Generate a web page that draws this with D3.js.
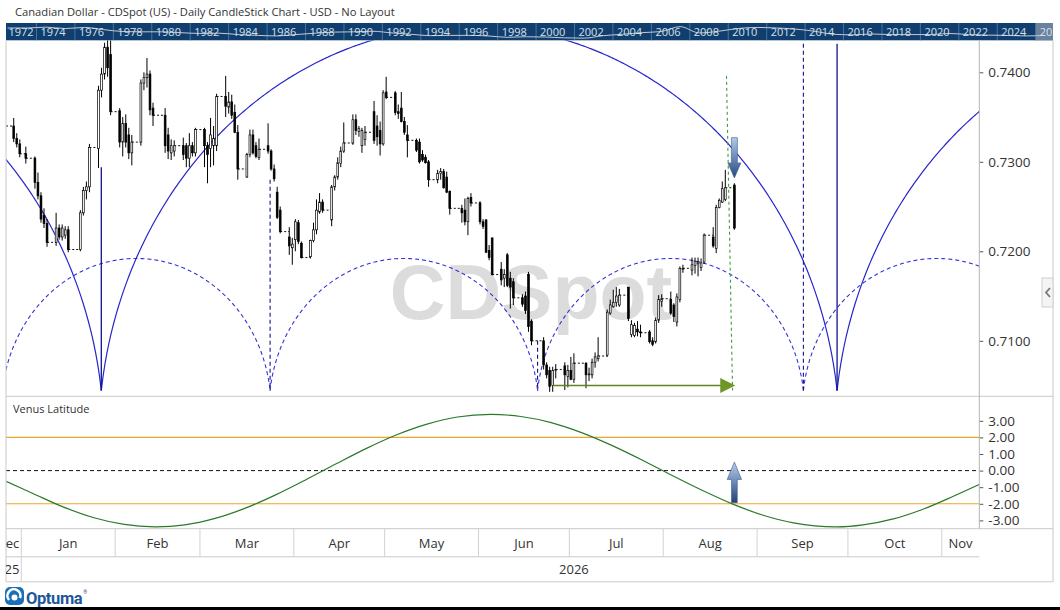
<!DOCTYPE html>
<html>
<head>
<meta charset="utf-8">
<title>Canadian Dollar - CDSpot</title>
<script src="https://cdn.jsdelivr.net/npm/d3@7/dist/d3.min.js"></script>
<style>
  body { margin: 0; background: #fff; }
  svg { display: block; font-family: "Open Sans", "Noto Sans", sans-serif; }
</style>
</head>
<body>
<svg id="chart" width="1060" height="610"></svg>
<script>
// ---- data ----
const titleText = "Canadian Dollar - CDSpot (US) - Daily CandleStick Chart - USD - No Layout";

// daily candles: date, open, high, low, close
const candles = [
  ["2025-12-29",.7340,.7349,.7322,.7326],["2025-12-30",.7326,.7332,.7316,.7320],["2025-12-31",.7320,.7325,.7305,.7309],["2026-01-02",.7309,.7317,.7298,.7304],
  ["2026-01-05",.7304,.7306,.7270,.7277],["2026-01-06",.7277,.7288,.7258,.7262],["2026-01-07",.7262,.7266,.7232,.7236],["2026-01-08",.7240,.7248,.7226,.7231],["2026-01-09",.7231,.7236,.7205,.7210],
  ["2026-01-12",.7210,.7243,.7206,.7226],["2026-01-13",.7226,.7230,.7213,.7216],["2026-01-14",.7216,.7230,.7212,.7226],["2026-01-15",.7218,.7228,.7214,.7224],["2026-01-16",.7224,.7228,.7199,.7202],
  ["2026-01-20",.7202,.7246,.7200,.7243],["2026-01-21",.7243,.7272,.7240,.7268],["2026-01-22",.7268,.7278,.7258,.7272],["2026-01-23",.7272,.7320,.7266,.7316],
  ["2026-01-26",.7315,.7385,.7293,.7380],["2026-01-27",.7380,.7405,.7372,.7398],["2026-01-28",.7398,.7433,.7392,.7428],["2026-01-29",.7428,.7437,.7395,.7405],["2026-01-30",.7420,.7436,.7352,.7356],
  ["2026-02-02",.7357,.7360,.7316,.7322],["2026-02-03",.7322,.7350,.7306,.7343],["2026-02-04",.7343,.7353,.7316,.7322],["2026-02-05",.7330,.7338,.7303,.7310],["2026-02-06",.7310,.7330,.7296,.7322],
  ["2026-02-09",.7322,.7392,.7318,.7388],["2026-02-10",.7388,.7400,.7380,.7394],["2026-02-11",.7394,.7416,.7383,.7398],["2026-02-12",.7398,.7402,.7352,.7358],["2026-02-13",.7360,.7366,.7340,.7352],
  ["2026-02-17",.7352,.7360,.7310,.7318],["2026-02-18",.7330,.7338,.7303,.7312],["2026-02-19",.7310,.7325,.7302,.7318],["2026-02-20",.7312,.7324,.7306,.7318],
  ["2026-02-23",.7318,.7327,.7302,.7308],["2026-02-24",.7318,.7321,.7294,.7304],["2026-02-25",.7304,.7332,.7294,.7318],["2026-02-26",.7318,.7322,.7306,.7310],["2026-02-27",.7310,.7338,.7306,.7336],
  ["2026-03-02",.7336,.7338,.7294,.7318],["2026-03-03",.7318,.7322,.7276,.7308],["2026-03-04",.7315,.7349,.7294,.7330],["2026-03-05",.7318,.7340,.7296,.7326],["2026-03-06",.7318,.7376,.7312,.7373],
  ["2026-03-09",.7373,.7396,.7350,.7362],["2026-03-10",.7361,.7378,.7354,.7367],["2026-03-11",.7367,.7375,.7348,.7352],["2026-03-12",.7355,.7364,.7332,.7333],["2026-03-13",.7333,.7341,.7280,.7292],
  ["2026-03-16",.7283,.7310,.7282,.7308],["2026-03-17",.7308,.7336,.7305,.7330],["2026-03-18",.7330,.7336,.7308,.7310],["2026-03-19",.7318,.7322,.7304,.7306],["2026-03-20",.7305,.7326,.7302,.7314],
  ["2026-03-23",.7318,.7343,.7309,.7312],["2026-03-24",.7312,.7314,.7290,.7292],["2026-03-25",.7292,.7297,.7278,.7281],["2026-03-26",.7266,.7272,.7236,.7238],["2026-03-27",.7246,.7250,.7220,.7222],
  ["2026-03-30",.7216,.7227,.7196,.7206],["2026-03-31",.7204,.7215,.7185,.7208],["2026-04-01",.7213,.7236,.7200,.7233],["2026-04-02",.7232,.7235,.7208,.7211],["2026-04-03",.7209,.7211,.7192,.7193],
  ["2026-04-06",.7194,.7213,.7192,.7212],["2026-04-07",.7212,.7232,.7210,.7224],["2026-04-08",.7224,.7258,.7219,.7246],["2026-04-09",.7244,.7265,.7242,.7255],["2026-04-10",.7255,.7258,.7243,.7246],
  ["2026-04-13",.7235,.7274,.7228,.7272],["2026-04-14",.7272,.7285,.7268,.7283],["2026-04-15",.7283,.7305,.7280,.7299],["2026-04-16",.7298,.7317,.7294,.7312],["2026-04-17",.7312,.7344,.7310,.7321],
  ["2026-04-20",.7321,.7353,.7319,.7347],["2026-04-21",.7347,.7353,.7330,.7335],["2026-04-22",.7334,.7340,.7328,.7337],["2026-04-23",.7318,.7338,.7310,.7335],["2026-04-24",.7325,.7340,.7318,.7333],
  ["2026-04-27",.7356,.7368,.7320,.7324],["2026-04-28",.7340,.7352,.7318,.7328],["2026-04-29",.7335,.7345,.7307,.7320],["2026-04-30",.7320,.7380,.7318,.7377],["2026-05-01",.7378,.7395,.7370,.7372],
  ["2026-05-04",.7377,.7379,.7352,.7355],["2026-05-05",.7356,.7364,.7348,.7354],["2026-05-06",.7360,.7378,.7344,.7345],["2026-05-07",.7345,.7350,.7330,.7333],["2026-05-08",.7330,.7341,.7305,.7324],
  ["2026-05-11",.7324,.7326,.7311,.7313],["2026-05-12",.7322,.7326,.7298,.7300],["2026-05-13",.7308,.7313,.7300,.7302],["2026-05-14",.7305,.7308,.7298,.7299],["2026-05-15",.7300,.7302,.7272,.7280],
  ["2026-05-18",.7280,.7291,.7276,.7287],["2026-05-19",.7287,.7293,.7280,.7289],["2026-05-20",.7289,.7292,.7270,.7271],["2026-05-21",.7283,.7289,.7265,.7266],["2026-05-22",.7267,.7268,.7241,.7248],
  ["2026-05-26",.7248,.7252,.7232,.7243],["2026-05-27",.7246,.7259,.7229,.7233],["2026-05-28",.7233,.7261,.7218,.7259],["2026-05-29",.7260,.7265,.7250,.7254],
  ["2026-06-01",.7254,.7256,.7230,.7233],["2026-06-02",.7233,.7236,.7225,.7228],["2026-06-03",.7235,.7236,.7198,.7199],["2026-06-04",.7201,.7207,.7190,.7193],["2026-06-05",.7215,.7215,.7173,.7174],
  ["2026-06-08",.7180,.7188,.7162,.7168],["2026-06-09",.7170,.7180,.7160,.7174],["2026-06-10",.7196,.7198,.7160,.7162],["2026-06-11",.7170,.7177,.7136,.7160],["2026-06-12",.7166,.7170,.7140,.7148],
  ["2026-06-15",.7148,.7152,.7138,.7141],["2026-06-16",.7150,.7155,.7130,.7134],["2026-06-17",.7174,.7177,.7110,.7116],["2026-06-18",.7122,.7124,.7095,.7100],
  ["2026-06-22",.7100,.7104,.7068,.7073],["2026-06-23",.7073,.7076,.7058,.7062],["2026-06-24",.7067,.7071,.7043,.7049],["2026-06-25",.7050,.7071,.7043,.7067],["2026-06-26",.7067,.7074,.7058,.7068],
  ["2026-06-29",.7072,.7076,.7045,.7062],["2026-06-30",.7060,.7073,.7048,.7067],["2026-07-01",.7067,.7082,.7056,.7057],["2026-07-02",.7057,.7086,.7053,.7075],
  ["2026-07-06",.7075,.7076,.7047,.7062],["2026-07-07",.7062,.7070,.7055,.7063],["2026-07-08",.7062,.7080,.7058,.7076],["2026-07-09",.7076,.7087,.7070,.7082],["2026-07-10",.7080,.7104,.7077,.7083],
  ["2026-07-13",.7084,.7135,.7082,.7132],["2026-07-14",.7131,.7146,.7129,.7140],["2026-07-15",.7138,.7157,.7137,.7143],["2026-07-16",.7143,.7160,.7138,.7150],["2026-07-17",.7140,.7158,.7138,.7151],
  ["2026-07-20",.7160,.7160,.7122,.7125],["2026-07-21",.7107,.7123,.7104,.7118],["2026-07-22",.7106,.7120,.7104,.7117],["2026-07-23",.7113,.7122,.7105,.7110],["2026-07-24",.7110,.7118,.7104,.7109],
  ["2026-07-27",.7110,.7112,.7097,.7099],["2026-07-28",.7100,.7104,.7094,.7096],["2026-07-29",.7099,.7126,.7097,.7123],["2026-07-30",.7123,.7151,.7120,.7146],["2026-07-31",.7144,.7152,.7138,.7147],
  ["2026-08-03",.7146,.7155,.7129,.7131],["2026-08-04",.7140,.7142,.7121,.7127],["2026-08-05",.7121,.7153,.7116,.7149],["2026-08-06",.7146,.7183,.7143,.7181],["2026-08-07",.7180,.7185,.7176,.7181],
  ["2026-08-10",.7179,.7193,.7173,.7185],["2026-08-11",.7184,.7193,.7175,.7189],["2026-08-12",.7186,.7193,.7172,.7188],["2026-08-13",.7182,.7192,.7178,.7187],["2026-08-14",.7188,.7220,.7186,.7218],
  ["2026-08-17",.7216,.7227,.7204,.7206],["2026-08-18",.7203,.7252,.7198,.7249],["2026-08-19",.7249,.7259,.7248,.7257],["2026-08-20",.7255,.7278,.7254,.7270],["2026-08-21",.7258,.7291,.7256,.7271],
  ["2026-08-24",.7274,.7276,.7224,.7226]
];
const priorClose = 0.7340;

const priceTicks = [0.7100, 0.7200, 0.7300, 0.7400];
const latTicks = [3, 2, 1, 0, -1, -2, -3];
const latBands = [2, -2];

// Venus latitude (degrees)
const venusDates = ["2025-12-27","2026-01-05","2026-01-15","2026-01-25","2026-02-04","2026-02-14","2026-02-24","2026-03-06",
  "2026-03-16","2026-03-26","2026-04-05","2026-04-15","2026-04-25","2026-05-05","2026-05-15","2026-05-25","2026-06-05",
  "2026-06-15","2026-06-25","2026-07-05","2026-07-15","2026-07-25","2026-08-04","2026-08-14","2026-08-24","2026-09-03",
  "2026-09-13","2026-09-27","2026-10-06","2026-10-16","2026-10-26","2026-11-05","2026-11-15"];
const venusLat = [-0.65,-1.39,-2.20,-2.84,-3.24,-3.39,-3.27,-2.88,
  -2.26,-1.46,-0.55,0.41,1.34,2.16,2.80,3.23,3.39,
  3.26,2.89,2.29,1.52,0.64,-0.30,-1.20,-2.02,-2.69,
  -3.15,-3.39,-3.27,-2.91,-2.31,-1.53,-0.70];

// cycle arcs
const arcBase = 0.70445;
const solidCusps = ["2025-05-29T11:00","2026-01-27T10:00","2026-09-27T10:00","2027-05-28T09:00"];
const solidPeak = 0.7452;
const dashedCusps = ["2025-12-25T18:00","2026-03-24T04:00","2026-06-20T12:00","2026-09-16T07:00","2026-12-13T09:00"];
const dashedPeak = 0.7192;
const cycleLineDates = ["2026-01-27T10:00","2026-03-24T04:00","2026-06-20T12:00","2026-09-16T07:00","2026-09-27T10:00"];
const cycleLineTops = [0.7294, 0.7280, 0.7100, 0.7432, 0.7432];
const cycleLineDashed = [false, true, true, true, false];

// annotations
const trendLine = [["2026-08-21T21:30", 0.7396], ["2026-08-23T21:30", 0.70445]];
const projection = { from: "2026-06-25T18:00", to: "2026-08-24T19:00", price: 0.7050 };
const arrowDate = "2026-08-24T12:00";
const downArrow = [0.7327, 0.7282];
const upArrow = [0.52, -1.93];

// axis labels
const monthStarts = ["2025-12-01","2026-01-01","2026-02-01","2026-03-01","2026-04-01","2026-05-01","2026-06-01",
  "2026-07-01","2026-08-01","2026-09-01","2026-10-01","2026-11-01","2026-12-01"];
const monthLabels = ["Dec","Jan","Feb","Mar","Apr","May","Jun","Jul","Aug","Sep","Oct","Nov"];
const yearStarts = ["2025-01-01","2026-01-01","2027-01-01"];
const yearLabels = ["2025","2026"];

// overview strip (long-term history)
const bandLabelYears = [1972,1974,1976,1978,1980,1982,1984,1986,1988,1990,1992,1994,1996,1998,
  2000,2002,2004,2006,2008,2010,2012,2014,2016,2018,2020,2022,2024,2026];
const histYears = [1972,1973,1974,1975,1976,1977,1978,1979,1980,1981,1982,1983,1984,1985,1986,1987,1988,1989,
  1990,1991,1992,1993,1994,1995,1996,1997,1998,1999,2000,2001,2002,2003,2004,2005,2006,2007,2008,2009,
  2010,2011,2012,2013,2014,2015,2016,2017,2018,2019,2020,2021,2022,2023,2024,2025,2026];
const histValues = [1.00,1.00,1.03,0.98,1.02,0.94,0.87,0.86,0.86,0.83,0.80,0.81,0.76,0.73,0.71,0.76,0.81,0.85,
  0.86,0.88,0.82,0.77,0.72,0.73,0.73,0.71,0.66,0.68,0.67,0.64,0.63,0.72,0.77,0.83,0.87,1.05,0.82,0.88,
  0.98,1.02,1.00,0.96,0.88,0.77,0.75,0.78,0.76,0.76,0.76,0.80,0.76,0.74,0.73,0.71,0.73];

// ---- drawing ----
const svg = d3.select("#chart");
const defs = svg.append("defs");
const parseD = d3.timeParse("%Y-%m-%d");
const parseT = d3.timeParse("%Y-%m-%dT%H:%M");
const toDate = s => s.length > 10 ? parseT(s) : parseD(s);

const plotL = 6, plotR = 979.3, mainTop = 40.6, mainBot = 395, lowTop = 397, lowBot = 528.7;

const x = d3.scaleTime()
  .domain([new Date(2026, 0, 1), new Date(2026, 10, 1)])
  .range([21.3, 941.8]);
const y = d3.scaleLinear().domain([0.70, 0.74]).range([430.3, 72.3]);
const yLat = d3.scaleLinear().domain([-3, 3]).range([520.4, 420.8]);

function clip(id, x0, y0, w, h) {
  defs.append("clipPath").attr("id", id).append("rect")
    .attr("x", x0).attr("y", y0).attr("width", w).attr("height", h);
}
clip("clipMain", plotL, mainTop, plotR - plotL, mainBot - mainTop);
clip("clipLow", plotL, lowTop, plotR - plotL, lowBot - lowTop);
clip("clipAxis", plotL, lowBot, plotR - plotL, 60);
clip("clipBand", plotL, 23, 1053 - plotL, 17.6);

function grad(id, c1, c2) {
  const g = defs.append("linearGradient").attr("id", id).attr("x1", 0).attr("y1", 0).attr("x2", 0).attr("y2", 1);
  g.append("stop").attr("offset", "0%").attr("stop-color", c1);
  g.append("stop").attr("offset", "100%").attr("stop-color", c2);
}
grad("gDown", "#b3cbea", "#26477f");
grad("gUp", "#b8cfec", "#22417a");

// title
svg.append("text").attr("x", 15).attr("y", 16).attr("font-size", 11.2).attr("fill", "#333").text(titleText);

// overview strip
const xb = d3.scaleTime().domain([new Date(1974, 0, 1), new Date(2026, 0, 1)]).range([36.5, 1035.7]);
const yb = d3.scaleLinear().domain([0.62, 1.12]).range([38.4, 24.7]);
const band = svg.append("g").attr("clip-path", "url(#clipBand)");
band.append("rect").attr("x", plotL).attr("y", 23).attr("width", 1053 - plotL).attr("height", 17.6).attr("fill", "#103f6f");
band.append("rect").attr("x", xb(new Date(2026, 0, 1))).attr("y", 23).attr("width", 30).attr("height", 17.6)
  .attr("fill", "#8a99ad").attr("opacity", 0.75);
band.selectAll("line.sep").data(bandLabelYears).join("line").attr("class", "sep")
  .attr("x1", d => xb(new Date(d, 0, 1))).attr("x2", d => xb(new Date(d, 0, 1)))
  .attr("y1", 23).attr("y2", 40.6).attr("stroke", "#5a7ea4").attr("stroke-width", 0.8);
band.append("path")
  .datum(histYears.map((yr, i) => [new Date(yr, 6, 1), histValues[i]]))
  .attr("d", d3.line().x(d => xb(d[0])).y(d => yb(d[1])).curve(d3.curveMonotoneX))
  .attr("fill", "none").attr("stroke", "#c3c9d1").attr("stroke-width", 1);
band.selectAll("text").data(bandLabelYears).join("text")
  .attr("x", d => Math.max(xb(new Date(d, 0, 1)) + 4, 8.5)).attr("y", 36)
  .attr("font-size", 11).attr("fill", "#d8e0ea").text(d => d);

// main panel
const main = svg.append("g").attr("clip-path", "url(#clipMain)");
main.append("text").attr("x", 531).attr("y", 319).attr("text-anchor", "middle")
  .attr("font-family", "'Liberation Sans', Arial, sans-serif").attr("font-weight", "bold")
  .attr("font-size", 77).attr("fill", "#dcdcdc").text("CDSpot");

const arcDrop = 0.136;
function cyclePath(c1, c2, peak) {
  const xa = x(toDate(c1)), xz = x(toDate(c2));
  const w = (xz - xa) / 2, cx = xa + w;
  const base = y(arcBase), h = w * arcDrop;
  const ry = base - y(peak) + h;
  const rx = w / Math.sqrt(1 - (h / ry) * (h / ry));
  const pts = d3.range(0, 401).map(i => {
    const px = xa + (xz - xa) * i / 400;
    const dx = (px - cx) / rx;
    return [px, base + h - ry * Math.sqrt(Math.max(0, 1 - dx * dx))];
  });
  return d3.line()(pts);
}
const pairs = arr => arr.slice(1).map((c, i) => [arr[i], c]);
main.selectAll("path.arcD").data(pairs(dashedCusps)).join("path").attr("class", "arcD")
  .attr("d", d => cyclePath(d[0], d[1], dashedPeak))
  .attr("fill", "none").attr("stroke", "#3434d6").attr("stroke-width", 1.1).attr("stroke-dasharray", "4,3");
main.selectAll("path.arcS").data(pairs(solidCusps)).join("path").attr("class", "arcS")
  .attr("d", d => cyclePath(d[0], d[1], solidPeak))
  .attr("fill", "none").attr("stroke", "#2626cc").attr("stroke-width", 1.2);
main.selectAll("line.cyc").data(cycleLineDates).join("line").attr("class", "cyc")
  .attr("x1", d => x(toDate(d))).attr("x2", d => x(toDate(d)))
  .attr("y1", (d, i) => y(cycleLineTops[i])).attr("y2", y(arcBase))
  .attr("stroke", "#12128f").attr("stroke-width", (d, i) => cycleLineDashed[i] ? 1.1 : 1.3)
  .attr("stroke-dasharray", (d, i) => cycleLineDashed[i] ? "4,3" : null);

// candles
const bars = candles.map(([d, o, h, l, c]) => ({ date: parseD(d), o, h, l, c }));
const cx = d => x(d3.timeHour.offset(d, 12));
const gaps = [{ x1: plotL, x2: cx(bars[0].date), v: priorClose }];
bars.forEach((b, i) => {
  const n = bars[i + 1];
  if (n && d3.timeDay.count(b.date, n.date) > 1) gaps.push({ x1: cx(b.date), x2: cx(n.date), v: b.c });
});
main.selectAll("line.gap").data(gaps).join("line").attr("class", "gap")
  .attr("x1", d => d.x1).attr("x2", d => d.x2).attr("y1", d => y(d.v)).attr("y2", d => y(d.v))
  .attr("stroke", "#111").attr("stroke-width", 1).attr("stroke-dasharray", "2,2");
const cg = main.append("g");
cg.selectAll("line.wick").data(bars).join("line").attr("class", "wick")
  .attr("x1", d => cx(d.date)).attr("x2", d => cx(d.date))
  .attr("y1", d => y(d.h)).attr("y2", d => y(d.l)).attr("stroke", "#000").attr("stroke-width", 1);
cg.selectAll("rect").data(bars).join("rect")
  .attr("x", d => cx(d.date) - 0.9).attr("width", 1.8)
  .attr("y", d => y(Math.max(d.o, d.c)))
  .attr("height", d => Math.max(0.8, Math.abs(y(d.o) - y(d.c))))
  .attr("fill", d => d.c >= d.o ? "#fff" : "#000")
  .attr("stroke", "#000").attr("stroke-width", 0.7);

// green projection and time line
main.append("line")
  .attr("x1", x(toDate(trendLine[0][0]))).attr("y1", y(trendLine[0][1]))
  .attr("x2", x(toDate(trendLine[1][0]))).attr("y2", y(trendLine[1][1]))
  .attr("stroke", "#3f9b3f").attr("stroke-width", 1.1).attr("stroke-dasharray", "3,3");
const px1 = x(toDate(projection.from)), px2 = x(toDate(projection.to)), py = y(projection.price);
main.append("line").attr("x1", px1).attr("x2", px2 - 12).attr("y1", py).attr("y2", py)
  .attr("stroke", "#5f851f").attr("stroke-width", 1.6);
main.append("path").attr("d", `M${px2},${py}L${px2 - 15},${py - 7.5}L${px2 - 15},${py + 7.5}Z`)
  .attr("fill", "#6f9626");

// down arrow
const ax = x(toDate(arrowDate));
{
  const t = y(downArrow[0]), b = y(downArrow[1]), hb = b - 15;
  main.append("path")
    .attr("d", `M${ax - 3},${t}L${ax + 3},${t}L${ax + 3},${hb}L${ax + 6.5},${hb}L${ax},${b}L${ax - 6.5},${hb}L${ax - 3},${hb}Z`)
    .attr("fill", "url(#gDown)").attr("stroke", "#3d5c92").attr("stroke-width", 0.6);
}

// price axis
const axR = svg.append("g").attr("transform", `translate(${plotR},0)`)
  .call(d3.axisRight(y).tickValues(priceTicks).tickFormat(d3.format(".4f")).tickSize(4).tickPadding(5));
axR.select(".domain").remove();
axR.selectAll("line").attr("stroke", "#555");
axR.selectAll("text").attr("font-size", 13.5).attr("fill", "#333").attr("font-family", "'Open Sans', sans-serif");

// lower panel
const low = svg.append("g").attr("clip-path", "url(#clipLow)");
low.selectAll("line.band").data(latBands).join("line").attr("class", "band")
  .attr("x1", plotL).attr("x2", plotR).attr("y1", d => yLat(d)).attr("y2", d => yLat(d))
  .attr("stroke", "#eaa62a").attr("stroke-width", 1.1);
low.append("line").attr("x1", plotL).attr("x2", plotR).attr("y1", yLat(0)).attr("y2", yLat(0))
  .attr("stroke", "#111").attr("stroke-width", 1).attr("stroke-dasharray", "4,3");
low.append("path")
  .datum(venusDates.map((d, i) => [toDate(d), venusLat[i]]))
  .attr("d", d3.line().x(d => x(d[0])).y(d => yLat(d[1])).curve(d3.curveCatmullRom))
  .attr("fill", "none").attr("stroke", "#2b7a2b").attr("stroke-width", 1.2);
{
  const t = yLat(upArrow[0]), b = yLat(upArrow[1]), hb = t + 17.5;
  low.append("path")
    .attr("d", `M${ax},${t}L${ax + 7.2},${hb}L${ax + 2.9},${hb}L${ax + 2.9},${b}L${ax - 2.9},${b}L${ax - 2.9},${hb}L${ax - 7.2},${hb}Z`)
    .attr("fill", "url(#gUp)").attr("stroke", "#3d5c92").attr("stroke-width", 0.6);
}
svg.append("text").attr("x", 13).attr("y", 413).attr("font-size", 11).attr("fill", "#333").text("Venus Latitude");

const axL = svg.append("g").attr("transform", `translate(${plotR},0)`)
  .call(d3.axisRight(yLat).tickValues(latTicks).tickFormat(d => d.toFixed(2)).tickSize(4).tickPadding(5));
axL.select(".domain").remove();
axL.selectAll("line").attr("stroke", "#555");
axL.selectAll("text").attr("font-size", 13.5).attr("fill", "#333").attr("font-family", "'Open Sans', sans-serif");

// frame lines
const frame = svg.append("g").attr("stroke", "#c9c9c9").attr("stroke-width", 1).attr("fill", "none");
frame.append("line").attr("x1", plotL).attr("x2", plotL).attr("y1", mainTop).attr("y2", 581.8);
frame.append("line").attr("x1", 1053).attr("x2", 1053).attr("y1", mainTop).attr("y2", 581.8);
frame.append("line").attr("x1", plotL).attr("x2", 1053).attr("y1", 581.8).attr("y2", 581.8);
frame.append("line").attr("x1", plotL).attr("x2", 1053).attr("y1", 396.3).attr("y2", 396.3);
frame.append("line").attr("x1", plotL).attr("x2", 1053).attr("y1", lowBot).attr("y2", lowBot);
frame.append("line").attr("x1", plotL).attr("x2", plotR).attr("y1", 556.8).attr("y2", 556.8);
frame.append("line").attr("x1", plotR).attr("x2", plotR).attr("y1", mainTop).attr("y2", lowBot).attr("stroke", "#b5b5b5");

// time axis
const ax2 = svg.append("g").attr("clip-path", "url(#clipAxis)");
const months = monthLabels.map((m, i) => ({ m, a: x(parseD(monthStarts[i])), b: x(parseD(monthStarts[i + 1])) }));
ax2.selectAll("line.msep").data(months).join("line").attr("class", "msep")
  .attr("x1", d => d.a).attr("x2", d => d.a).attr("y1", lowBot).attr("y2", 556.8)
  .attr("stroke", "#d2d2d2");
ax2.selectAll("text.mlab").data(months).join("text").attr("class", "mlab")
  .attr("x", d => {
    const a = Math.max(d.a, plotL), b = Math.min(d.b, plotR);
    return (b - a) < 30 && d.a < plotL ? b - 2 : (a + b) / 2;
  })
  .attr("text-anchor", d => (Math.min(d.b, plotR) - Math.max(d.a, plotL)) < 30 && d.a < plotL ? "end" : "middle")
  .attr("y", 548).attr("font-size", 13).attr("fill", "#333").text(d => d.m);
const years = yearLabels.map((yl, i) => ({ yl, a: x(parseD(yearStarts[i])), b: x(parseD(yearStarts[i + 1])) }));
ax2.selectAll("line.ysep").data(years).join("line").attr("class", "ysep")
  .attr("x1", d => d.b).attr("x2", d => d.b).attr("y1", 556.8).attr("y2", 581.8).attr("stroke", "#d2d2d2");
ax2.selectAll("text.ylab").data(years).join("text").attr("class", "ylab")
  .attr("x", d => d.a < plotL && d.b < 100 ? d.b - 2 : (d.a + d.b) / 2)
  .attr("text-anchor", d => d.a < plotL && d.b < 100 ? "end" : "middle")
  .attr("y", 574).attr("font-size", 13).attr("fill", "#333").text(d => d.yl);

// side tab
svg.append("rect").attr("x", 1042).attr("y", 278).attr("width", 11).attr("height", 29)
  .attr("fill", "#f4f4f4").attr("stroke", "#cfcfcf");
svg.append("path").attr("d", "M1050,288L1046,292.5L1050,297").attr("fill", "none")
  .attr("stroke", "#777").attr("stroke-width", 1.8);

// logo
svg.append("rect").attr("x", 5).attr("y", 587).attr("width", 19).attr("height", 18).attr("rx", 5).attr("fill", "#1c70b8");
svg.append("path").attr("d", "M9,600 A6.5,6.5 0 1 1 20,598").attr("fill", "none").attr("stroke", "#fff").attr("stroke-width", 2.6);
svg.append("circle").attr("cx", 14.5).attr("cy", 597.5).attr("r", 3).attr("fill", "#fff");
const logo = svg.append("text").attr("x", 26).attr("y", 603.5).attr("font-family", "Roboto, sans-serif")
  .attr("font-weight", "bold").attr("font-size", 16.5).attr("letter-spacing", -0.4).attr("fill", "#1d5798");
logo.append("tspan").text("Optuma");
logo.append("tspan").attr("font-size", 5).attr("dx", 1).attr("dy", -10).text("®");

// bottom bar
svg.append("rect").attr("x", 0).attr("y", 607).attr("width", 1060).attr("height", 3).attr("fill", "#000");
</script>
</body>
</html>
